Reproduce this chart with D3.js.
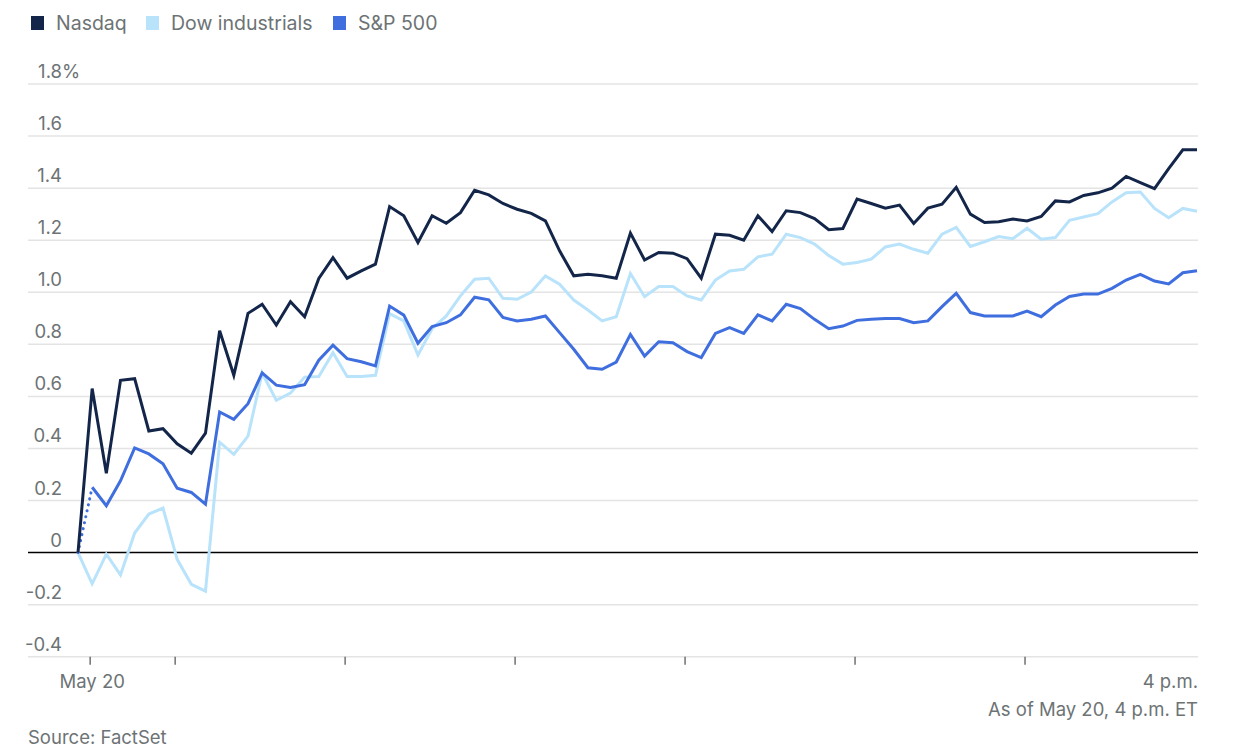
<!DOCTYPE html>
<html>
<head>
<meta charset="utf-8">
<script src="https://cdn.jsdelivr.net/npm/d3@7"></script>
<style>
    body { margin: 0; background: #fff; }
    text { font-family: Inter, "Noto Sans", sans-serif; fill: #6d7375; }
</style>
</head>
<body>
<div id="chart"></div>
<script>

// series, percent change since previous close, one point every 5 minutes from 9:25 to 4 p.m.
let nasdaq = [0, 0.63, 0.305, 0.662, 0.668, 0.467, 0.476, 0.418, 0.382, 0.459,
    0.852, 0.681, 0.919, 0.954, 0.874, 0.964, 0.906, 1.053, 1.133, 1.054,
    1.082, 1.108, 1.329, 1.294, 1.191, 1.294, 1.265, 1.306, 1.392, 1.374,
    1.341, 1.319, 1.303, 1.274, 1.159, 1.063, 1.069, 1.063, 1.054, 1.227,
    1.124, 1.153, 1.15, 1.129, 1.054, 1.223, 1.219, 1.2, 1.294, 1.233,
    1.313, 1.306, 1.283, 1.24, 1.245, 1.358, 1.341, 1.323, 1.335, 1.264,
    1.323, 1.338, 1.403, 1.3, 1.268, 1.271, 1.281, 1.274, 1.291, 1.351,
    1.347, 1.372, 1.382, 1.4, 1.445, 1.421, 1.398, 1.475, 1.547, 1.547];

let dow = [0, -0.12, -0.006, -0.086, 0.075, 0.148, 0.171, -0.026, -0.122, -0.148,
    0.424, 0.377, 0.447, 0.69, 0.585, 0.613, 0.674, 0.676, 0.768, 0.676,
    0.676, 0.681, 0.918, 0.89, 0.759, 0.86, 0.909, 0.986, 1.05, 1.054,
    0.977, 0.973, 1.001, 1.063, 1.031, 0.97, 0.932, 0.89, 0.906, 1.072,
    0.983, 1.022, 1.022, 0.986, 0.97, 1.047, 1.082, 1.088, 1.136, 1.146,
    1.223, 1.21, 1.185, 1.141, 1.108, 1.114, 1.127, 1.174, 1.185, 1.165,
    1.15, 1.223, 1.249, 1.176, 1.194, 1.214, 1.206, 1.246, 1.204, 1.21,
    1.276, 1.289, 1.302, 1.347, 1.382, 1.385, 1.322, 1.286, 1.322, 1.311];

let sp500 = [0, 0.251, 0.18, 0.276, 0.402, 0.379, 0.341, 0.247, 0.231, 0.186,
    0.54, 0.512, 0.572, 0.69, 0.643, 0.634, 0.645, 0.739, 0.797, 0.745,
    0.733, 0.717, 0.947, 0.912, 0.804, 0.868, 0.883, 0.913, 0.981, 0.971,
    0.903, 0.89, 0.896, 0.909, 0.845, 0.781, 0.71, 0.704, 0.732, 0.838,
    0.755, 0.81, 0.806, 0.772, 0.749, 0.842, 0.864, 0.842, 0.913, 0.89,
    0.954, 0.937, 0.896, 0.86, 0.87, 0.892, 0.896, 0.899, 0.899, 0.883,
    0.89, 0.945, 0.996, 0.922, 0.909, 0.909, 0.909, 0.928, 0.906, 0.951,
    0.984, 0.993, 0.993, 1.015, 1.047, 1.069, 1.043, 1.032, 1.075, 1.083];

let seriesNames = ['Nasdaq', 'Dow industrials', 'S&P 500'];
let seriesColors = ['#13264a', '#b8e3fb', '#3f6edf'];
let yTicks = [-0.4, -0.2, 0, 0.2, 0.4, 0.6, 0.8, 1.0, 1.2, 1.4, 1.6, 1.8];
let tickHours = [[9, 30], [10, 0], [11, 0], [12, 0], [13, 0], [14, 0], [15, 0]];

let day = new Date(2024, 4, 20);
let start = d3.timeMinute.offset(day, 9 * 60 + 25);
let end = d3.timeMinute.offset(day, 16 * 60);
let times = d3.timeMinute.every(5).range(start, d3.timeMinute.offset(end, 1));

let width = 1237, height = 753;
let margin = {top: 0, right: 39, bottom: 0, left: 28};

let svg = d3.select('#chart').append('svg')
    .attr('width', width)
    .attr('height', height);

// scales
let x = d3.scaleTime()
    .domain([start, end])
    .range([78, 1197]);

let y = d3.scaleLinear()
    .domain([-0.4, 1.8])
    .range([656.7, 84]);

// plain hyphen for negatives, like the original
let fmt = d => d === 0 ? '0' : d3.format('.1f')(d).replace('\u2212', '-');

// gridlines and y labels
let grid = svg.append('g').attr('class', 'grid');
grid.selectAll('line')
    .data(yTicks)
    .enter()
    .append('line')
    .attr('x1', margin.left)
    .attr('x2', width - margin.right)
    .attr('y1', d => y(d))
    .attr('y2', d => y(d))
    .attr('stroke', d => d === 0 ? '#000' : '#e4e4e4')
    .attr('stroke-width', 1.5);

grid.selectAll('text')
    .data(yTicks)
    .enter()
    .append('text')
    .attr('x', 62)
    .attr('y', d => y(d) - 6)
    .attr('text-anchor', 'end')
    .style('font-size', '18.5px')
    .text(fmt);

svg.append('text')
    .attr('x', 62)
    .attr('y', y(1.8) - 6)
    .style('font-size', '18.5px')
    .text('%');

// x ticks
let tickTimes = tickHours.map(h => d3.timeMinute.offset(day, h[0] * 60 + h[1]));
svg.append('g').selectAll('line')
    .data(tickTimes)
    .enter()
    .append('line')
    .attr('x1', d => x(d) - 2)
    .attr('x2', d => x(d) - 2)
    .attr('y1', y(-0.4))
    .attr('y2', y(-0.4) + 8)
    .attr('stroke', '#707070')
    .attr('stroke-width', 1.5);

svg.append('text')
    .attr('x', x(tickTimes[0]))
    .attr('y', 688)
    .attr('text-anchor', 'middle')
    .style('font-size', '18.5px')
    .text('May 20');

svg.append('text')
    .attr('x', 1198)
    .attr('y', 688)
    .attr('text-anchor', 'end')
    .style('font-size', '18.5px')
    .text('4 p.m.');

svg.append('text')
    .attr('x', 1198)
    .attr('y', 716)
    .attr('text-anchor', 'end')
    .style('font-size', '18.5px')
    .text('As of May 20, 4 p.m. ET');

svg.append('text')
    .attr('x', 28)
    .attr('y', 744)
    .style('font-size', '18.5px')
    .text('Source: FactSet');

// lines
let line = d3.line()
    .x((d, i) => x(times[i]))
    .y(d => y(d));

let allSeries = [nasdaq, dow, sp500];
let drawOrder = [1, 2, 0];

drawOrder.forEach(k => {
    let values = allSeries[k];
    // S&P 500 opening gap is drawn dotted
    let solid = k === 2 ? values.map((v, i) => i === 0 ? null : v) : values;
    svg.append('path')
        .datum(solid)
        .attr('fill', 'none')
        .attr('stroke', seriesColors[k])
        .attr('stroke-width', 3)
        .attr('stroke-linejoin', 'miter')
        .attr('d', d3.line()
            .defined(d => d !== null)
            .x((d, i) => x(times[i]))
            .y(d => y(d)));

    if (k === 2) {
        svg.append('path')
            .datum(values.slice(0, 2))
            .attr('fill', 'none')
            .attr('stroke', seriesColors[k])
            .attr('stroke-width', 3)
            .attr('stroke-dasharray', '0.1,6')
            .attr('stroke-linecap', 'round')
            .attr('d', line);
    }
});

// legend
let legendX = [31, 146, 333];
let legend = svg.append('g').attr('class', 'legend');
seriesNames.forEach((name, k) => {
    legend.append('rect')
        .attr('x', legendX[k])
        .attr('y', 16)
        .attr('width', 13)
        .attr('height', 14)
        .attr('fill', seriesColors[k]);
    legend.append('text')
        .attr('x', legendX[k] + 25)
        .attr('y', 30)
        .style('font-size', '19.5px')
        .text(name);
});

</script>
</body>
</html>
